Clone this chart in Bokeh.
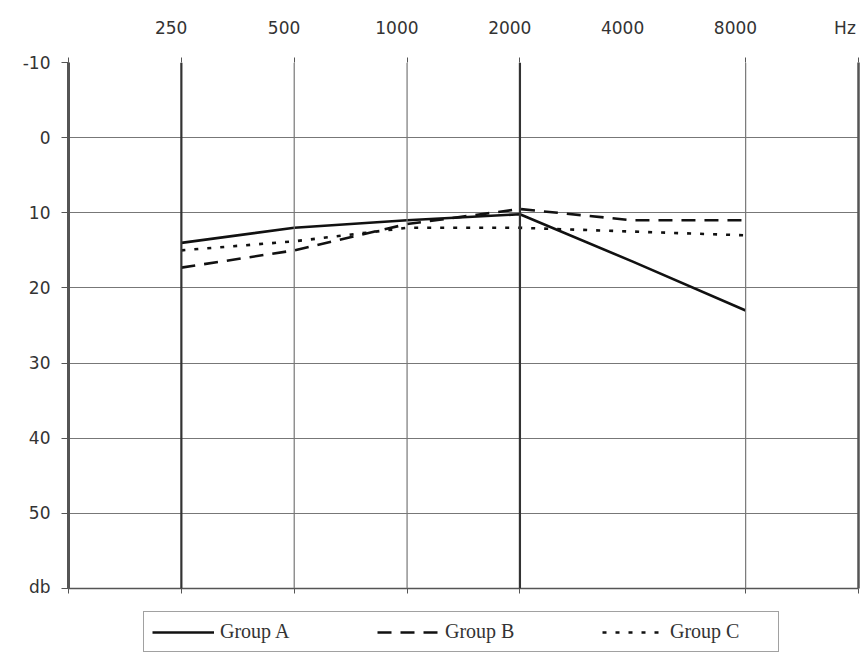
from bokeh.plotting import figure
from bokeh.layouts import column
from bokeh.models import Range1d, FixedTicker, LinearAxis, Span, Legend, LegendItem, Grid
from bokeh.embed import file_html
from bokeh.resources import INLINE

freqs = ["250", "500", "1000", "2000", "4000", "8000"]
group_a = [14.0, 12.0, 11.0, 10.2, 16.5, 23.0]
group_b = [17.3, 15.0, 11.5, 9.5, 11.0, 11.0]
group_c = [15.0, 13.8, 12.0, 12.0, 12.5, 13.0]
db_ticks = [-10, 0, 10, 20, 30, 40, 50, 60]
db_labels = ["-10", "0", "10", "20", "30", "40", "50", "db"]
unit_label = "Hz"
series_names = ["Group A", "Group B", "Group C"]
grid_freqs = ["250", "500", "1000", "2000", "8000"]
bold_freqs = ["250", "2000"]

xs = [i + 1 for i in range(len(freqs))]
xmax = len(freqs) + 1
pos = {f: i + 1 for i, f in enumerate(freqs)}
label_shift = -0.09

p = figure(width=862, height=596, x_range=Range1d(0, xmax), y_range=Range1d(60, -10),
           output_backend="svg", toolbar_location=None,
           x_axis_location=None, y_axis_location=None,
           min_border_left=68, min_border_right=4, min_border_top=62, min_border_bottom=8)
p.outline_line_color = None
p.xgrid.visible = False
p.ygrid.visible = False

FONT = "DejaVu Sans"
LBL = "#333333"

hg = Grid(dimension=1, ticker=FixedTicker(ticks=db_ticks), grid_line_color="#777777", grid_line_width=1.2)
p.add_layout(hg)

for f in grid_freqs:
    bold = f in bold_freqs
    p.add_layout(Span(location=pos[f], dimension="height",
                      line_color="#333333" if bold else "#777777",
                      line_width=2.2 if bold else 1.2))

tick_pos = [0] + [pos[f] for f in grid_freqs] + [xmax]
blank = {t: "" for t in tick_pos}

top_ticks = LinearAxis(ticker=FixedTicker(ticks=tick_pos), axis_line_color=None,
                       major_tick_out=5, major_tick_in=0, major_tick_line_color="#555555",
                       minor_tick_line_color=None, major_label_overrides=blank,
                       major_label_text_font_size="2px", major_label_standoff=0)
p.add_layout(top_ticks, "above")

lab_pos = [v + label_shift for v in xs] + [xmax - 0.12]
overrides = {v + label_shift: f for v, f in zip(xs, freqs)}
overrides[xmax - 0.12] = unit_label
top_labels = LinearAxis(ticker=FixedTicker(ticks=lab_pos), axis_line_color=None,
                        major_tick_line_color=None, minor_tick_line_color=None,
                        major_label_overrides=overrides, major_label_standoff=14,
                        major_label_text_font=FONT, major_label_text_font_size="17px",
                        major_label_text_color=LBL)
p.add_layout(top_labels, "above")

bot = LinearAxis(ticker=FixedTicker(ticks=tick_pos), axis_line_color="#555555", axis_line_width=1.5,
                 major_tick_out=5, major_tick_in=0, major_tick_line_color="#555555",
                 minor_tick_line_color=None, major_label_overrides=blank,
                 major_label_text_font_size="2px", major_label_standoff=0)
p.add_layout(bot, "below")

left = LinearAxis(ticker=FixedTicker(ticks=db_ticks),
                  major_label_overrides={t: l for t, l in zip(db_ticks, db_labels)},
                  axis_line_color="#555555", axis_line_width=3,
                  major_tick_out=7, major_tick_in=0, major_tick_line_color="#555555",
                  minor_tick_line_color=None, major_label_standoff=11,
                  major_label_text_font=FONT, major_label_text_font_size="17px",
                  major_label_text_color=LBL)
p.add_layout(left, "left")

right = LinearAxis(ticker=FixedTicker(ticks=[]), axis_line_color="#555555", axis_line_width=2.5,
                   major_tick_out=0, major_tick_in=0, minor_tick_line_color=None,
                   major_label_text_font_size="2px", major_label_standoff=0)
p.add_layout(right, "right")

styles = [dict(line_dash="solid"), dict(line_dash="14 9"), dict(line_dash="4 9")]
series = [group_a, group_b, group_c]
for vals, st in zip(series, styles):
    p.line(xs, vals, line_color="#111111", line_width=2.6, **st)

# legend strip (its own lines fall outside its tiny ranges, only the legend shows)
q = figure(width=862, height=59, x_range=Range1d(0, 0.001), y_range=Range1d(0, 0.001),
           output_backend="svg", toolbar_location=None,
           x_axis_location=None, y_axis_location=None,
           min_border_left=0, min_border_right=0, min_border_top=0, min_border_bottom=0)
q.outline_line_color = None
q.xgrid.visible = False
q.ygrid.visible = False
items = []
for name, vals, st in zip(series_names, series, styles):
    r = q.line(xs, vals, line_color="#111111", line_width=2.6, **st)
    items.append(LegendItem(label=name, renderers=[r]))

legend = Legend(items=items, orientation="horizontal", location=(75, 3),
                border_line_color="#444444", border_line_width=1.5,
                background_fill_color="white", background_fill_alpha=1,
                label_text_font="Liberation Serif", label_text_font_size="20px",
                label_text_color="#333333",
                glyph_width=62, glyph_height=20, label_standoff=6, label_width=100,
                spacing=57, padding=8, margin=0)
q.add_layout(legend, "center")

layout = column(p, q, spacing=0)
open("out.html", "w").write(file_html(layout, INLINE))
